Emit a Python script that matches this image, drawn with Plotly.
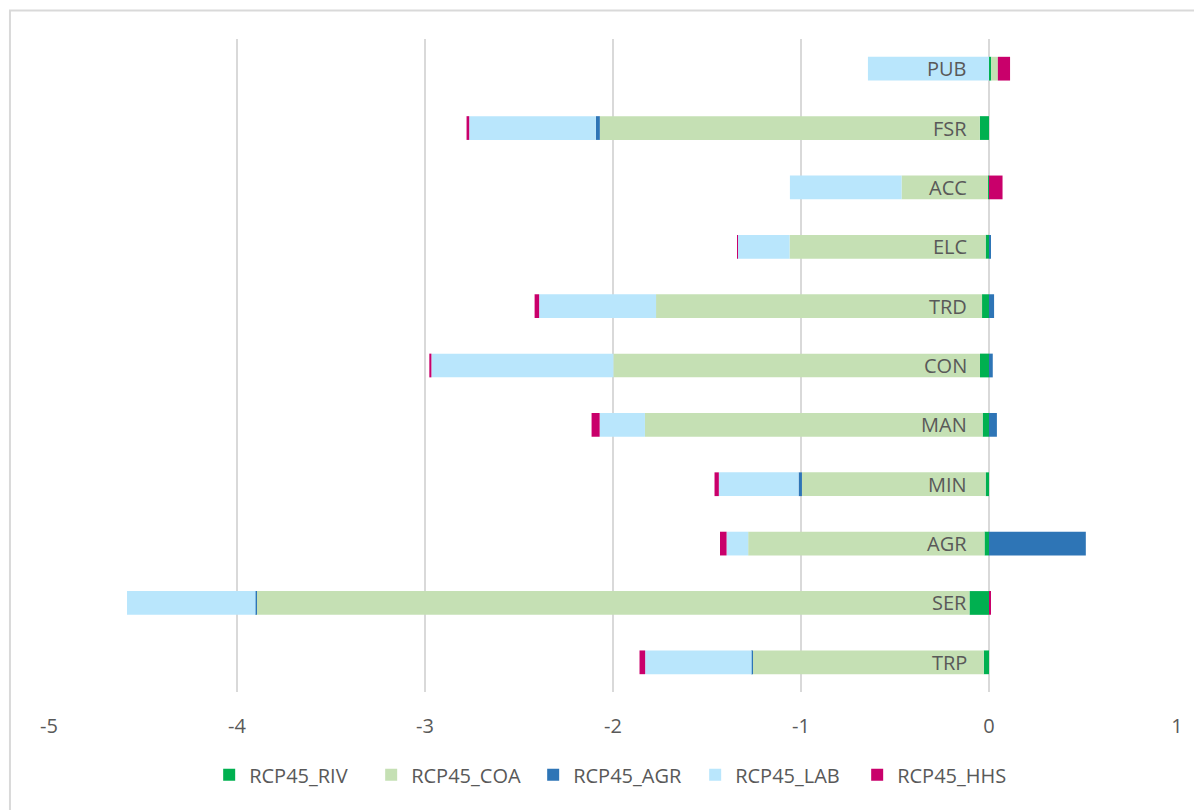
import plotly.graph_objects as go

# Sectors, bottom to top as drawn
sectors = ["TRP", "SER", "AGR", "MIN", "MAN", "CON", "TRD", "ELC", "ACC", "FSR", "PUB"]

rcp45_riv = [-0.028, -0.104, -0.024, -0.018, -0.034, -0.048, -0.037, -0.018, -0.005, -0.049, 0.012]
rcp45_coa = [-1.232, -3.794, -1.257, -0.977, -1.796, -1.950, -1.734, -1.043, -0.460, -2.021, 0.035]
rcp45_agr = [-0.002, -0.003, 0.515, -0.018, 0.042, 0.020, 0.027, 0.010, 0.000, -0.021, 0.000]
rcp45_lab = [-0.567, -0.684, -0.115, -0.424, -0.241, -0.968, -0.622, -0.275, -0.594, -0.674, -0.644]
rcp45_hhs = [-0.030, 0.008, -0.035, -0.023, -0.043, -0.011, -0.024, -0.003, 0.072, -0.014, 0.065]

x_ticks = [-5, -4, -3, -2, -1, 0, 1]

series = [
    ("RCP45_RIV", rcp45_riv, "#00B050"),
    ("RCP45_COA", rcp45_coa, "#C5E0B4"),
    ("RCP45_AGR", rcp45_agr, "#2E75B6"),
    ("RCP45_LAB", rcp45_lab, "#B9E6FC"),
    ("RCP45_HHS", rcp45_hhs, "#C9006B"),
]

FONT = "Open Sans, sans-serif"
GREY = "#595959"

fig = go.Figure()
for name, vals, color in series:
    fig.add_trace(
        go.Bar(
            y=sectors,
            x=vals,
            name=name,
            orientation="h",
            marker=dict(color=color, line=dict(width=0)),
        )
    )

# category labels sit next to the zero line, as in the original
for s in sectors:
    fig.add_annotation(
        x=0, y=s, text=s, showarrow=False,
        xanchor="right", xshift=-20,
        font=dict(family=FONT, size=20, color=GREY),
    )

# outer chart border
fig.add_shape(
    type="rect", xref="paper", yref="paper",
    x0=-0.0346, x1=1.2, y0=-0.5, y1=1.0435,
    line=dict(color="#D9D9D9", width=2), layer="below",
)

# page body has an 8px margin, so the figure is shrunk/shifted to compensate
fig.update_layout(
    barmode="relative",
    bargap=0.6,
    width=1194,
    height=802,
    margin=dict(l=41, r=25, t=31, b=118),
    plot_bgcolor="white",
    paper_bgcolor="white",
    font=dict(family=FONT, size=20, color=GREY),
    xaxis=dict(
        range=[-5, 1],
        tickvals=x_ticks,
        ticktext=[str(v) for v in x_ticks],
        showgrid=True,
        gridcolor="#D9D9D9",
        gridwidth=2,
        zeroline=False,
        ticks="",
        ticklabelstandoff=20,
        tickfont=dict(size=20, color=GREY),
    ),
    yaxis=dict(showticklabels=False, showgrid=False, zeroline=False, ticks=""),
    legend=dict(
        orientation="h",
        x=0.142, xanchor="left",
        y=-0.097, yanchor="top",
        font=dict(size=20, color=GREY),
        traceorder="normal",
        entrywidth=117,
        entrywidthmode="pixels",
        itemwidth=30,
    ),
)

fig.write_html("out.html")
